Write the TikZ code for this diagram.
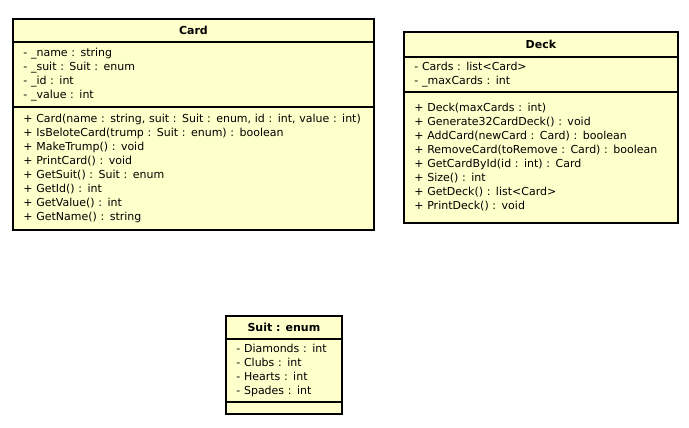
\documentclass[tikz,border=0pt]{standalone}
\usepackage{fontspec}
\setmainfont{DejaVu Sans}
\usepackage{tikz}
\usetikzlibrary{positioning}
\definecolor{umlfill}{RGB}{255,255,204}
\tikzset{
  umltitle/.style={draw,fill=umlfill,line width=0.8pt,inner sep=0pt,anchor=north west,
    font=\bfseries\fontsize{11}{14}\selectfont},
  umlpart/.style={draw,fill=umlfill,line width=0.8pt,inner xsep=10pt,inner ysep=0pt,align=left,
    font=\fontsize{11}{14}\selectfont},
  umlframe/.style={line width=2pt}
}

\begin{document}
\begin{tikzpicture}[x=1pt,y=-1pt]
  \useasboundingbox (0,0) rectangle (689,428);
  % 类 Card
  \node[umltitle,minimum width=360pt,minimum height=22pt] (cardtitle) at (13,19) {Card};
  \node[umlpart,text width=340pt,minimum height=64pt,below=0pt of cardtitle] (cardattrs)
    {- \_name : string\\- \_suit : Suit : enum\\- \_id : int\\- \_value : int};
  \node[umlpart,text width=340pt,minimum height=123pt,below=0pt of cardattrs] (cardops)
    {+ Card(name : string, suit : Suit : enum, id : int, value : int)\\
     + IsBeloteCard(trump : Suit : enum) : boolean\\
     + MakeTrump() : void\\
     + PrintCard() : void\\
     + GetSuit() : Suit : enum\\
     + GetId() : int\\
     + GetValue() : int\\
     + GetName() : string};
  \draw[umlframe] (cardtitle.north west) rectangle (cardops.south east);
  % 类 Deck
  \node[umltitle,minimum width=273pt,minimum height=24pt] (decktitle) at (404,32) {Deck};
  \node[umlpart,text width=253pt,minimum height=34pt,below=0pt of decktitle] (deckattrs)
    {- Cards : list<Card>\\- \_maxCards : int};
  \node[umlpart,text width=253pt,minimum height=131pt,below=0pt of deckattrs] (deckops)
    {+ Deck(maxCards : int)\\
     + Generate32CardDeck() : void\\
     + AddCard(newCard : Card) : boolean\\
     + RemoveCard(toRemove : Card) : boolean\\
     + GetCardById(id : int) : Card\\
     + Size() : int\\
     + GetDeck() : list<Card>\\
     + PrintDeck() : void};
  \draw[umlframe] (decktitle.north west) rectangle (deckops.south east);
  % 枚举 Suit
  \node[umltitle,minimum width=115pt,minimum height=22pt] (suittitle) at (226,316) {Suit : enum};
  \node[umlpart,text width=95pt,minimum height=62pt,below=0pt of suittitle] (suitattrs)
    {- Diamonds : int\\- Clubs : int\\- Hearts : int\\- Spades : int};
  \node[umlpart,text width=95pt,minimum height=12pt,below=0pt of suitattrs] (suitops) {};
  \draw[umlframe] (suittitle.north west) rectangle (suitops.south east);
\end{tikzpicture}
\end{document}
